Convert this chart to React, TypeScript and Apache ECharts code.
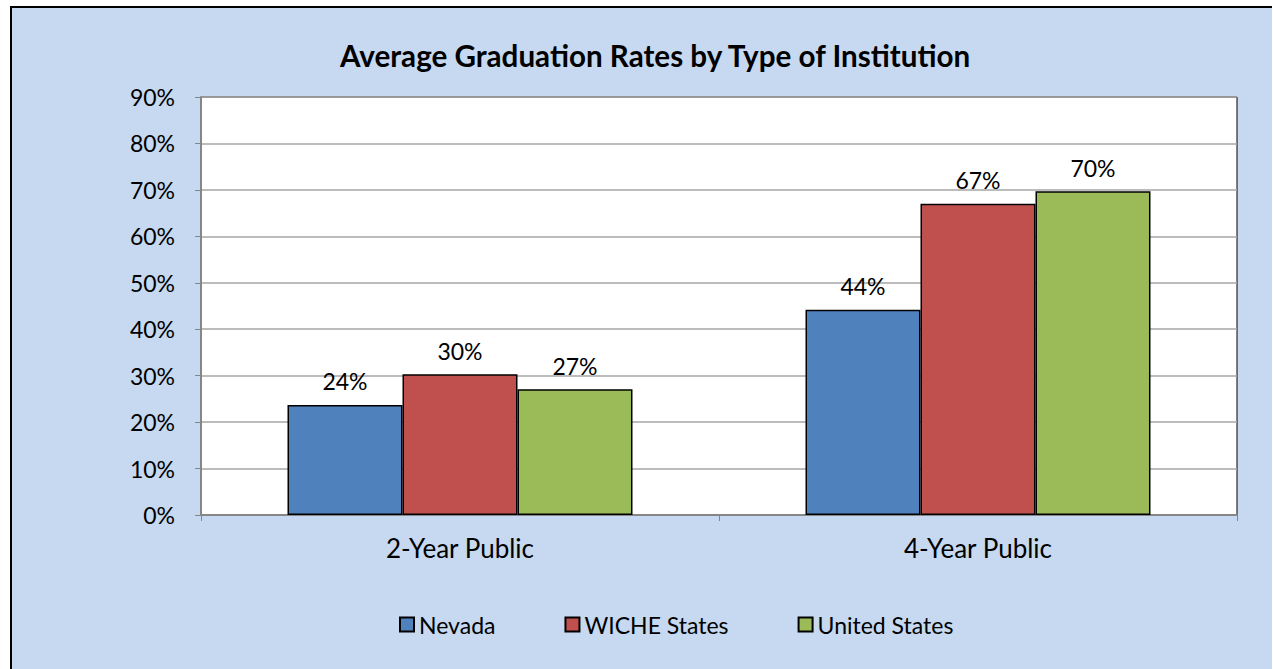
import React, { useEffect, useRef } from "react";
import * as echarts from "echarts";

const categories = ["2-Year Public", "4-Year Public"];
const seriesNames = ["Nevada", "WICHE States", "United States"];
const nevada = [23.7, 44.2];
const wiche = [30.3, 67.0];
const unitedStates = [27.1, 69.7];
const seriesColors = ["#4F81BD", "#C0504D", "#9BBB59"];
const title = "Average Graduation Rates by Type of Institution";

const FONT = "Lato";

export default function App() {
  const ref = useRef<HTMLDivElement>(null);
  useEffect(() => {
    if (!ref.current) return;
    const chart = echarts.init(ref.current, undefined, { renderer: "svg" });
    const values = [nevada, wiche, unitedStates];
    chart.setOption({
      animation: false,
      textStyle: { fontFamily: FONT },
      graphic: [
        {
          type: "rect",
          z: -10,
          silent: true,
          shape: { x: 10, y: 6, width: 1262, height: 663 },
          style: { fill: "#C6D9F1" },
        },
        {
          type: "line",
          z: -9,
          silent: true,
          shape: { x1: 11, y1: 6, x2: 11, y2: 669 },
          style: { stroke: "#000", lineWidth: 2 },
        },
        {
          type: "line",
          z: -9,
          silent: true,
          shape: { x1: 10, y1: 7, x2: 1272, y2: 7 },
          style: { stroke: "#000", lineWidth: 2 },
        },
      ],
      title: {
        text: title,
        left: 335,
        top: 35,
        textStyle: { fontFamily: FONT, fontSize: 29.6, fontWeight: "bold", color: "#000" },
      },
      legend: {
        bottom: 28,
        left: 394,
        icon: "rect",
        itemWidth: 14,
        itemHeight: 14,
        itemGap: 69,
        textStyle: { fontFamily: FONT, fontSize: 23, color: "#000" },
        data: seriesNames,
      },
      grid: {
        left: 201,
        top: 97,
        right: 36,
        bottom: 154,
        show: true,
        backgroundColor: "#fff",
        borderColor: "#000",
        borderWidth: 1,
      },
      xAxis: {
        type: "category",
        data: categories,
        axisLine: { lineStyle: { color: "#868686", width: 2 } },
        axisTick: { show: true, length: 6, lineStyle: { color: "#868686", width: 1 } },
        axisLabel: { fontFamily: FONT, fontSize: 26, color: "#000", margin: 20 },
      },
      yAxis: {
        type: "value",
        min: 0,
        max: 90,
        interval: 10,
        axisLine: { show: true, lineStyle: { color: "#868686", width: 2 } },
        axisTick: { show: true, length: 6, lineStyle: { color: "#868686" } },
        axisLabel: {
          fontFamily: FONT,
          fontSize: 23,
          color: "#000",
          margin: 26,
          formatter: (v: number) => `${v}%`,
        },
        splitLine: { lineStyle: { color: "#A6A6A6", width: 1.5 } },
      },
      series: seriesNames.map((name, i) => ({
        name,
        type: "bar",
        data: values[i],
        barGap: "0%",
        barCategoryGap: "33.4%",
        itemStyle: { color: seriesColors[i], borderColor: "#000", borderWidth: 1.5 },
        label: {
          show: true,
          position: "top",
          distance: 12,
          fontFamily: FONT,
          fontSize: 23,
          color: "#000",
          formatter: (p: any) => `${Math.round(p.value)}%`,
        },
      })),
    });
    return () => chart.dispose();
  }, []);
  return (
    <div
      ref={ref}
      style={{ position: "fixed", left: 0, top: 0, width: 1273, height: 669, background: "#fff" }}
    />
  );
}
